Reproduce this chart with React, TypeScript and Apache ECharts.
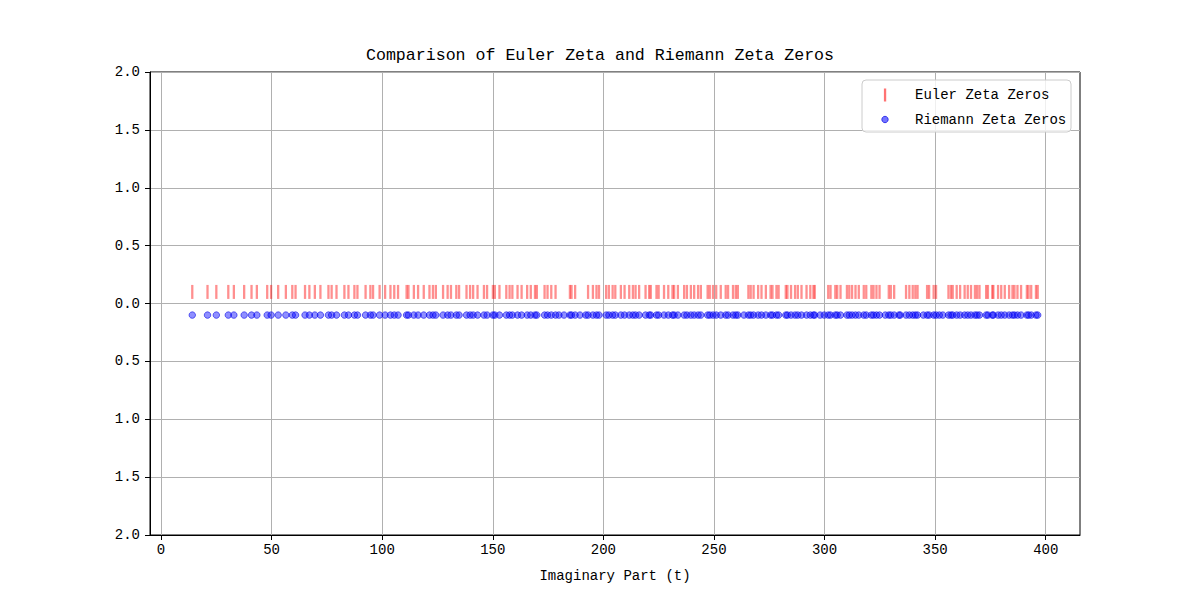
import React, { useEffect, useRef } from "react";
import * as echarts from "echarts";

const FONT = "Liberation Mono";

const titleText = "Comparison of Euler Zeta and Riemann Zeta Zeros";
const xAxisName = "Imaginary Part (t)";
const legendNames = ["Euler Zeta Zeros", "Riemann Zeta Zeros"];

const xTicks = [0, 50, 100, 150, 200, 250, 300, 350, 400];

const riemannZeros = [
  14.13, 21.02, 25.01, 30.42, 32.94, 37.59, 40.92, 43.33, 48.01, 49.77,
  52.97, 56.45, 59.35, 60.83, 65.11, 67.08, 69.55, 72.07, 75.7, 77.14,
  79.34, 82.91, 84.74, 87.43, 88.81, 92.49, 94.65, 95.87, 98.83, 101.32,
  103.73, 105.45, 107.17, 111.03, 111.87, 114.32, 116.23, 118.79, 121.37, 122.95,
  124.26, 127.52, 129.58, 131.09, 133.5, 134.76, 138.12, 139.74, 141.12, 143.11,
  146.0, 147.42, 150.05, 150.93, 153.02, 156.11, 157.6, 158.85, 161.19, 163.03,
  165.54, 167.18, 169.09, 169.91, 173.41, 174.75, 176.44, 178.38, 179.92, 182.21,
  184.87, 185.6, 187.23, 189.42, 192.03, 193.08, 195.27, 196.88, 198.02, 201.26,
  202.49, 204.19, 205.39, 207.91, 209.58, 211.69, 213.35, 214.55, 216.17, 219.07,
  220.71, 221.43, 224.01, 224.98, 227.42, 229.34, 231.25, 231.99, 233.69, 236.52,
  237.77, 239.56, 241.05, 242.82, 244.07, 247.14, 248.1, 249.57, 251.01, 253.07,
  255.31, 256.38, 258.61, 259.87, 260.81, 263.57, 265.56, 266.61, 267.92, 269.97,
  271.49, 273.46, 275.59, 276.45, 278.25, 279.23, 282.47, 283.21, 284.84, 286.67,
  287.91, 289.58, 291.85, 293.56, 294.97, 295.57, 297.98, 299.84, 301.65, 302.7,
  304.86, 305.73, 307.22, 310.11, 311.17, 312.43, 313.99, 315.48, 317.73, 318.85,
  321.16, 322.14, 323.47, 324.86, 327.44, 329.03, 329.95, 331.47, 333.65, 334.21,
  336.84, 338.34, 339.86, 341.04, 342.05, 344.66, 346.35, 347.27, 349.32, 350.41,
  351.88, 353.49, 356.02, 357.15, 357.95, 359.74, 361.29, 363.33, 364.74, 366.21,
  367.99, 368.97, 370.05, 373.06, 373.86, 375.83, 376.32, 378.44, 379.87, 381.48,
  383.44, 384.96, 385.86, 387.22, 388.85, 391.46, 392.25, 393.43, 395.58, 396.38,
];

const eulerZeros = [
  14.13, 21.02, 25.01, 30.42, 32.94, 37.59, 40.92, 43.33, 48.01, 49.77,
  52.97, 56.45, 59.35, 60.83, 65.11, 67.08, 69.55, 72.07, 75.7, 77.14,
  79.34, 82.91, 84.74, 87.43, 88.81, 92.49, 94.65, 95.87, 98.83, 101.32,
  103.73, 105.45, 107.17, 111.03, 111.87, 114.32, 116.23, 118.79, 121.37, 122.95,
  124.26, 127.52, 129.58, 131.09, 133.5, 134.76, 138.12, 139.74, 141.12, 143.11,
  146.0, 147.42, 150.05, 150.93, 153.02, 156.11, 157.6, 158.85, 161.19, 163.03,
  165.54, 167.18, 169.09, 169.91, 173.41, 174.75, 176.44, 178.38,
  184.87, 185.6, 187.23, 193.08, 195.27, 196.88, 198.02, 201.26,
  202.49, 204.19, 205.39, 207.91, 209.58, 211.69, 213.35, 214.55, 216.17, 219.07,
  220.71, 221.43, 224.01, 224.98, 227.42, 229.34, 231.25, 231.99, 233.69, 236.52,
  237.77, 239.56, 241.05, 242.82, 244.07, 247.14, 248.1, 249.57, 251.01, 253.07,
  255.31, 256.38, 258.61, 259.87, 260.81, 265.56, 266.61, 267.92, 269.97,
  271.49, 273.46, 275.59, 276.45, 278.25, 279.23, 282.47, 283.21, 284.84, 286.67,
  287.91, 289.58, 291.85, 293.56, 294.97, 295.57, 301.65, 302.7,
  304.86, 305.73, 307.22, 310.11, 311.17, 312.43, 313.99, 315.48, 317.73, 318.85,
  321.16, 322.14, 323.47, 324.86, 329.03, 329.95, 331.47,
  336.84, 338.34, 339.86, 341.04, 342.05, 346.35, 347.27, 349.32, 350.41,
  356.02, 357.15, 357.95, 359.74, 361.29, 363.33, 364.74, 366.21,
  367.99, 368.97, 370.05, 373.06, 373.86, 375.83, 376.32, 378.44, 379.87, 381.48,
  383.44, 384.96, 385.86, 387.22, 388.85, 391.46, 392.25, 393.43, 395.58, 396.38,
];

const eulerY = 0.1;
const riemannY = -0.1;

const RED = "rgba(255,0,0,0.55)";
const BLUE = "rgba(0,0,255,0.55)";
const BLUE_EDGE = "rgba(0,0,230,0.7)";

export default function App() {
  const ref = useRef<HTMLDivElement | null>(null);

  useEffect(() => {
    if (!ref.current) return;
    const chart = echarts.init(ref.current, null, { renderer: "svg" });
    const option: any = {
      animation: false,
      backgroundColor: "#ffffff",
      textStyle: { fontFamily: FONT, color: "#000" },
      title: {
        text: titleText,
        left: "center",
        top: 42,
        textStyle: { fontFamily: FONT, fontSize: 16.6, fontWeight: "normal", color: "#000" },
      },
      grid: {
        left: 150,
        right: 120,
        top: 72,
        bottom: 65,
        show: true,
        borderColor: "#000",
        borderWidth: 1,
        backgroundColor: "transparent",
      },
      xAxis: {
        type: "value",
        min: -4.98,
        max: 415.49,
        splitNumber: 8,
        name: xAxisName,
        nameLocation: "middle",
        nameGap: 34,
        nameTextStyle: { fontFamily: FONT, fontSize: 14, color: "#000" },
        axisLine: { show: true, onZero: false, lineStyle: { color: "#000", width: 1 } },
        axisTick: { show: true, length: 5, customValues: xTicks, lineStyle: { color: "#000", width: 1 } },
        axisLabel: { customValues: xTicks, fontFamily: FONT, fontSize: 14, color: "#000", margin: 8 },
        splitLine: { show: true, lineStyle: { color: "#b0b0b0", width: 1 } },
      },
      yAxis: {
        type: "value",
        min: -2,
        max: 2,
        interval: 0.5,
        axisLine: { show: true, onZero: false, lineStyle: { color: "#000", width: 1 } },
        axisTick: { show: true, length: 5, lineStyle: { color: "#000", width: 1 } },
        axisLabel: {
          fontFamily: FONT,
          fontSize: 14,
          color: "#000",
          margin: 10,
          formatter: (v: number) => Math.abs(v).toFixed(1),
        },
        splitLine: { show: true, lineStyle: { color: "#b0b0b0", width: 1 } },
      },
      series: [
        {
          name: legendNames[0],
          type: "scatter",
          symbol: "rect",
          symbolSize: [2.3, 14],
          itemStyle: { color: RED, borderWidth: 0 },
          data: eulerZeros.map((t) => [t, eulerY]),
          z: 3,
        },
        {
          name: legendNames[1],
          type: "scatter",
          symbol: "circle",
          symbolSize: 6.5,
          itemStyle: { color: BLUE, borderColor: BLUE_EDGE, borderWidth: 1 },
          data: riemannZeros.map((t) => [t, riemannY]),
          z: 3,
        },
      ],
      graphic: [
        {
          type: "rect",
          shape: { x: 862, y: 80, width: 209, height: 52, r: 4 },
          style: { fill: "rgba(255,255,255,0.8)", stroke: "#cccccc", lineWidth: 1 },
          z: 10,
        },
        {
          type: "rect",
          shape: { x: 883.9, y: 88.5, width: 2.3, height: 13 },
          style: { fill: RED },
          z: 11,
        },
        {
          type: "circle",
          shape: { cx: 885, cy: 119.5, r: 3.2 },
          style: { fill: BLUE, stroke: BLUE_EDGE, lineWidth: 1 },
          z: 11,
        },
        {
          type: "text",
          x: 915,
          y: 94.5,
          style: { text: legendNames[0], fontFamily: FONT, fontSize: 14, fill: "#000", verticalAlign: "middle", align: "left" },
          z: 11,
        },
        {
          type: "text",
          x: 915,
          y: 119.5,
          style: { text: legendNames[1], fontFamily: FONT, fontSize: 14, fill: "#000", verticalAlign: "middle", align: "left" },
          z: 11,
        },
      ],
    };
    chart.setOption(option);
    return () => chart.dispose();
  }, []);

  return <div ref={ref} style={{ width: 1200, height: 600, position: "absolute", left: 0, top: 0 }} />;
}
